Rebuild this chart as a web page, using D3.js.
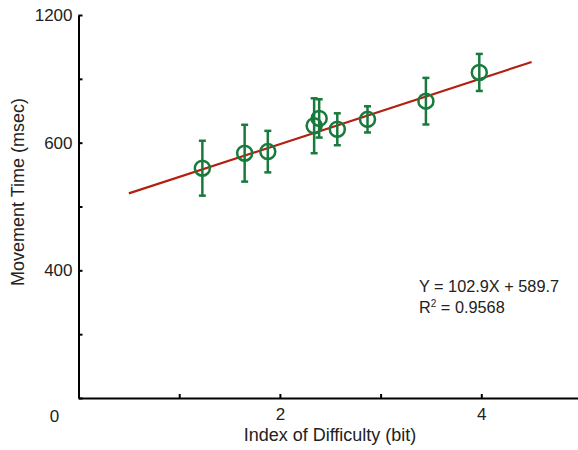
<!DOCTYPE html>
<html>
<head>
<meta charset="utf-8">
<script src="https://cdn.jsdelivr.net/npm/d3@7"></script>
<style>
  body { margin: 0; background: #fff; }
  #chart { width: 578px; height: 450px; }
  text { font-family: "Liberation Sans", Arial, sans-serif; fill: #222; }
</style>
</head>
<body>
<div id="chart"></div>
<script>
// index of difficulty (bit)
const difficulty = [1.23, 1.65, 1.88, 2.34, 2.39, 2.57, 2.87, 3.45, 3.98];
// mean movement time
const moveTime = [720, 767, 772, 853, 876, 842, 873, 930, 1020];
// half length of error bars
const moveErr = [86, 89, 65, 86, 60, 50, 41, 73, 58];

const xTicks = [0, 1, 2, 3, 4];
const xTickLabels = ["", "", "2", "", "4"];
const yTicks = [0, 200, 400, 600, 800, 1000, 1200];
const yTickLabels = ["", "", "400", "", "600", "", "1200"];

const fitSlope = 102.9;
const fitIntercept = 589.7;
const fitRange = [0.5, 4.5];

const width = 578;
const height = 450;

const svg = d3.select("#chart")
    .append("svg")
    .attr("width", width)
    .attr("height", height);

/*
SCALES
*/
const xScale = d3.scaleLinear()
    .domain([0, 5])
    .range([78.5, 582]);

const yScale = d3.scaleLinear()
    .domain([0, 1200])
    .range([398, 15]);

/*
AXES
*/
const xAxis = svg.append("g")
    .attr("transform", `translate(0,${yScale(0)})`)
    .call(d3.axisBottom(xScale)
        .tickValues(xTicks)
        .tickSizeInner(-4)
        .tickSizeOuter(0)
        .tickPadding(10)
        .tickFormat(function(d, i) { return xTickLabels[i]; }));

const yAxis = svg.append("g")
    .attr("transform", `translate(${xScale(0)},0)`)
    .call(d3.axisLeft(yScale)
        .tickValues(yTicks)
        .tickSizeInner(-4)
        .tickSizeOuter(0)
        .tickPadding(6)
        .tickFormat(function(d, i) { return yTickLabels[i]; }));

svg.selectAll(".domain, .tick line")
    .attr("stroke", "#000")
    .attr("stroke-width", 2);

svg.selectAll(".tick text")
    .attr("font-size", 17)
    .attr("font-family", "Liberation Sans, Arial, sans-serif")
    .attr("fill", "#222");

// origin label sits below left of the corner
svg.append("text")
    .attr("x", xScale(0) - 24)
    .attr("y", yScale(0) + 24)
    .attr("text-anchor", "middle")
    .attr("font-size", 17)
    .text("0");

/*
AXIS LABELS
*/
svg.append("text")
    .attr("x", 330)
    .attr("y", 441)
    .attr("text-anchor", "middle")
    .attr("font-size", 18)
    .text("Index of Difficulty (bit)");

svg.append("text")
    .attr("transform", "rotate(-90)")
    .attr("x", -192)
    .attr("y", 24)
    .attr("text-anchor", "middle")
    .attr("font-size", 18)
    .text("Movement Time (msec)");

/*
REGRESSION LINE
*/
svg.append("line")
    .attr("x1", xScale(fitRange[0]))
    .attr("y1", yScale(fitSlope * fitRange[0] + fitIntercept))
    .attr("x2", xScale(fitRange[1]))
    .attr("y2", yScale(fitSlope * fitRange[1] + fitIntercept))
    .attr("stroke", "#b3200f")
    .attr("stroke-width", 2.2);

/*
POINTS WITH ERROR BARS
*/
const points = difficulty.map(function(d, i) {
    return {x: d, y: moveTime[i], e: moveErr[i]};
});

const green = "#187a3c";

const groups = svg.selectAll("g.point")
    .data(points)
    .enter()
    .append("g")
    .attr("class", "point");

groups.append("line")
    .attr("x1", function(d) { return xScale(d.x); })
    .attr("x2", function(d) { return xScale(d.x); })
    .attr("y1", function(d) { return yScale(d.y + d.e); })
    .attr("y2", function(d) { return yScale(d.y - d.e); })
    .attr("stroke", green)
    .attr("stroke-width", 2.5);

groups.append("line")
    .attr("x1", function(d) { return xScale(d.x) - 3.5; })
    .attr("x2", function(d) { return xScale(d.x) + 3.5; })
    .attr("y1", function(d) { return yScale(d.y + d.e); })
    .attr("y2", function(d) { return yScale(d.y + d.e); })
    .attr("stroke", green)
    .attr("stroke-width", 2.5);

groups.append("line")
    .attr("x1", function(d) { return xScale(d.x) - 3.5; })
    .attr("x2", function(d) { return xScale(d.x) + 3.5; })
    .attr("y1", function(d) { return yScale(d.y - d.e); })
    .attr("y2", function(d) { return yScale(d.y - d.e); })
    .attr("stroke", green)
    .attr("stroke-width", 2.5);

groups.append("circle")
    .attr("cx", function(d) { return xScale(d.x); })
    .attr("cy", function(d) { return yScale(d.y); })
    .attr("r", 7.5)
    .attr("fill", "none")
    .attr("stroke", green)
    .attr("stroke-width", 2.5);

/*
FIT ANNOTATION
*/
svg.append("text")
    .attr("x", 419)
    .attr("y", 292)
    .attr("font-size", 16.3)
    .text(`Y = ${fitSlope}X + ${fitIntercept}`);

const r2 = svg.append("text")
    .attr("x", 419)
    .attr("y", 313)
    .attr("font-size", 16.3);
r2.append("tspan").text("R");
r2.append("tspan").attr("dy", -6).attr("font-size", 10).text("2");
r2.append("tspan").attr("dy", 6).text(" = 0.9568");
</script>
</body>
</html>
